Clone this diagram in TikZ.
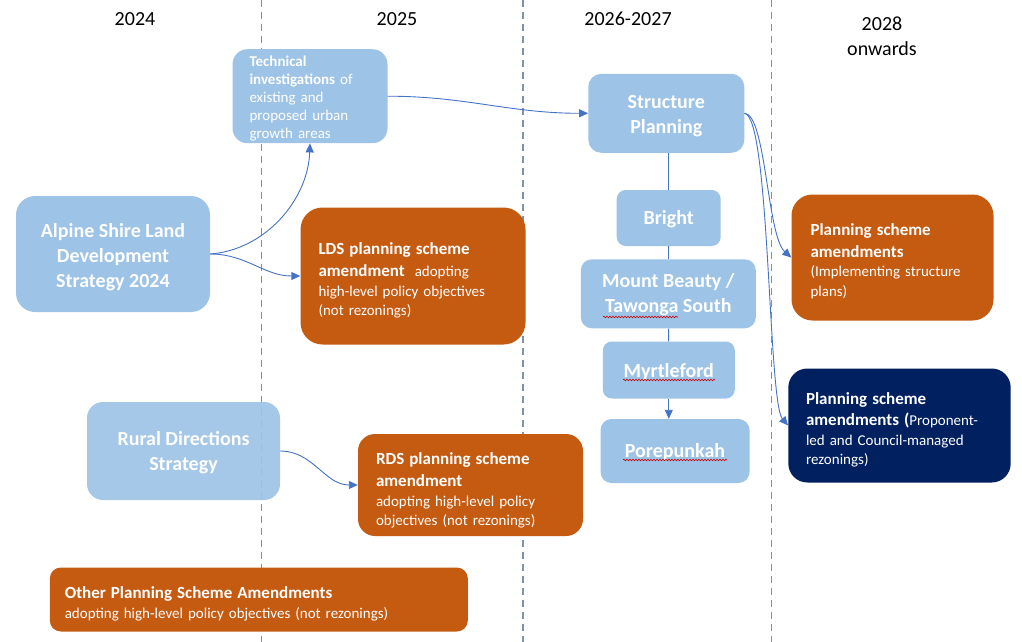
\documentclass[tikz,border=0pt]{standalone}
\usepackage{fontspec}
\setmainfont{Carlito}
\usepackage{xcolor}
\usetikzlibrary{arrows.meta, calc, decorations.pathmorphing}

\definecolor{paleblue}{HTML}{9DC3E6}
\definecolor{rust}{HTML}{C55A11}
\definecolor{deepnavy}{HTML}{002060}
\definecolor{linkblue}{HTML}{4472C4}
\definecolor{slategray}{HTML}{7E90AA}

\newcommand{\hd}[1]{{\fontsize{17}{21}\selectfont\bfseries #1}}
\newcommand{\topgap}[1]{\rule{0pt}{#1}}

\begin{document}
\begin{tikzpicture}[x=1pt, y=-1pt, >={Triangle[length=9pt, width=8pt]},
    yearlabel/.style={font=\fontsize{20}{25}\selectfont, align=center},
    period/.style={slategray, line width=1.6pt, dash pattern=on 7pt off 5pt},
    plan/.style={fill=paleblue, text=white, inner sep=0pt, align=center, font=\fontsize{20}{25}\selectfont\bfseries},
    amend/.style={fill=rust, text=white, inner xsep=18pt, inner ysep=0pt, align=left, font=\fontsize{15}{19.5}\selectfont},
    conn/.style={linkblue, line width=0.9pt},
    typo/.style={red!80!black, line width=0.6pt, decorate, decoration={snake, amplitude=0.8pt, segment length=3pt}}]

    \useasboundingbox (0,0) rectangle (1022,642);

    \node[yearlabel] (y24) at (135,19.5) {2024};
    \node[yearlabel] (y25) at (397,19.5) {2025};
    \node[yearlabel] (y26) at (628,18.5) {2026-2027};
    \node[yearlabel] (y28) at (882,36) {2028\\onwards};

    \draw[period] (261.5,0) -- (261.5,642);
    \draw[period] (523,0) -- (523,642);
    \draw[period] (771.5,0) -- (771.5,642);

    \node[plan, fill opacity=0.92, text opacity=1, minimum width=193pt, minimum height=98pt, rounded corners=16pt] (rural) at (183.5,451) {\topgap{17pt}Rural Directions\\Strategy};
    \node[plan, minimum width=194pt, minimum height=116pt, rounded corners=19pt] (alpine) at (113,254) {\topgap{21pt}Alpine Shire Land\\Development\\Strategy 2024};
    \node[plan, font=\fontsize{15}{18}\selectfont, align=left, text width=121pt, inner xsep=17pt, minimum width=155pt, minimum height=94pt, rounded corners=15pt] (tech) at (310,96.2) {\topgap{16pt}\textbf{Technical}\\\textbf{investigations} of\\existing and\\proposed urban\\growth areas};

    \node[amend, text width=189pt, minimum width=225pt, minimum height=137pt, rounded corners=22pt] (ldsamend) at (413,276) {\topgap{20.5pt}\hd{LDS planning scheme}\\[3pt]\hd{amendment}\ \ adopting\\high-level policy objectives\\(not rezonings)};
    \node[amend, text width=189pt, minimum width=225pt, minimum height=102pt, rounded corners=17pt] (rdsamend) at (470.5,485) {\topgap{22.5pt}\hd{RDS planning scheme}\\[3pt]\hd{amendment}\\adopting high-level policy\\objectives (not rezonings)};
    \node[amend, text width=388pt, inner xsep=15pt, minimum width=418pt, minimum height=64pt, rounded corners=11pt] (other) at (258.8,599.5) {\topgap{20.5pt}\hd{Other Planning Scheme Amendments}\\adopting high-level policy objectives (not rezonings)};

    \node[plan, minimum width=156pt, minimum height=79pt, rounded corners=13pt] (struct) at (666.3,113.3) {\topgap{19.5pt}Structure\\Planning};
    \node[plan, minimum width=104pt, minimum height=56pt, rounded corners=9pt] (bright) at (668.7,218) {\topgap{16.5pt}Bright};
    \node[plan, minimum width=175pt, minimum height=69pt, rounded corners=11pt] (mount) at (668.3,293.8) {\topgap{16.5pt}Mount Beauty /\\Tawonga South};
    \node[plan, minimum width=132pt, minimum height=57pt, rounded corners=9pt] (myrtle) at (668.8,370) {\topgap{17.5pt}Myrtleford};
    \node[plan, minimum width=149pt, minimum height=64pt, rounded corners=11pt] (pore) at (675,451) {\topgap{16.5pt}Porepunkah};

    \node[amend, text width=164pt, inner xsep=19pt, minimum width=202pt, minimum height=126pt, rounded corners=21pt] (spamend) at (892.5,257.5) {\topgap{19.5pt}\hd{Planning scheme}\\[2pt]\hd{amendments}\\(Implementing structure\\plans)};
    \node[amend, fill=deepnavy, text width=187pt, inner xsep=17.7pt, minimum width=222pt, minimum height=114pt, rounded corners=19pt] (rezone) at (899.5,425.5) {\topgap{20.5pt}\hd{Planning scheme}\\[2pt]\hd{amendments (}Proponent-\\led and Council-managed\\rezonings)};

    \draw[typo] (603,317) -- (678,317);
    \draw[typo] (623,380) -- (715,380);
    \draw[typo] (623,460) -- (727,460);

    \draw[conn, ->] (alpine.east) .. controls (265,250) and (308,200) .. (tech.south);
    \draw[conn, ->] (alpine.east) to[out=0, in=180] (ldsamend.west);
    \draw[conn, ->] (tech.east) to[out=0, in=180] (struct.west);
    \draw[conn, ->] (rural.east) to[out=0, in=180] (rdsamend.west);
    \draw[conn, ->] (struct.east) .. controls (766,114) and (767,236) .. (spamend.west);
    \draw[conn, ->] (struct.east) .. controls (770,116) and (768,402) .. (rezone.west);

    \draw[conn] (struct.south -| bright) -- (bright.north);
    \draw[conn] (bright) -- (mount);
    \draw[conn] (mount) -- (myrtle);
    \draw[conn, ->] (myrtle.south) -- (myrtle.south |- pore.north);
\end{tikzpicture}
\end{document}
